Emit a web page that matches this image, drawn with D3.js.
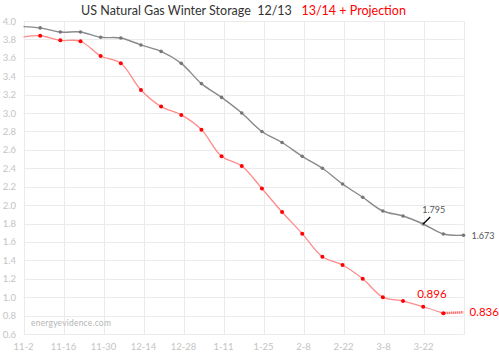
<!DOCTYPE html>
<html>
<head>
<meta charset="utf-8">
<script src="https://cdn.jsdelivr.net/npm/d3@7"></script>
<style>
  body { margin: 0; background: #fff; }
  svg { display: block; font-family: Lato, "Open Sans", sans-serif; }
</style>
</head>
<body>
<svg id="chart" width="499" height="358"></svg>
<script>
// weekly storage, tcf
var weeks = d3.range(23)
var storage1213 = [3.94, 3.925, 3.88, 3.88, 3.823, 3.815, 3.74, 3.67, 3.54, 3.32, 3.17, 3.0,
  2.8, 2.68, 2.53, 2.4, 2.23, 2.085, 1.936, 1.882, 1.795, 1.686, 1.673]
var storage1314 = [3.82, 3.84, 3.79, 3.78, 3.62, 3.54, 3.25, 3.07, 2.98, 2.82, 2.53, 2.425,
  2.18, 1.925, 1.69, 1.44, 1.35, 1.2, 1.0, 0.958, 0.896, 0.826, 0.836]
var xTickLabels = ["11-2", "11-16", "11-30", "12-14", "12-28", "1-11", "1-25", "2-8", "2-22", "3-8", "3-22", ""]
var yTicks = d3.range(0.6, 4.01, 0.2)

var svg = d3.select("#chart")
var plotLeft = 23.5, plotRight = 463.5, plotTop = 21, plotBottom = 334

var xGrid = d3.scaleLinear().domain([0, xTickLabels.length - 1]).range([plotLeft, plotRight])
var x = d3.scaleLinear().domain([0, 22]).range([20, 463.5])
var y = d3.scaleLinear().domain([0.6, 4.0]).range([plotBottom, plotTop])

// grid
svg.append("g").selectAll("line").data(yTicks).enter().append("line")
  .attr("x1", plotLeft).attr("x2", plotRight)
  .attr("y1", function (d) { return Math.round(y(d)) + 0.5 })
  .attr("y2", function (d) { return Math.round(y(d)) + 0.5 })
  .attr("stroke", "#ebebeb")

svg.append("g").selectAll("line").data(xTickLabels).enter().append("line")
  .attr("x1", function (d, i) { return Math.round(xGrid(i)) + 0.5 })
  .attr("x2", function (d, i) { return Math.round(xGrid(i)) + 0.5 })
  .attr("y1", plotTop).attr("y2", plotBottom + 1)
  .attr("stroke", "#ebebeb")

// tick labels
svg.append("g").selectAll("text").data(yTicks).enter().append("text")
  .attr("x", 16).attr("y", function (d) { return y(d) + 3.5 })
  .attr("text-anchor", "end").attr("font-size", 9.5).attr("fill", "#c4c4c4")
  .text(function (d) { return d.toFixed(1) })

svg.append("g").selectAll("text").data(xTickLabels).enter().append("text")
  .attr("x", function (d, i) { return xGrid(i) }).attr("y", 350)
  .attr("text-anchor", "middle").attr("font-size", 9.5).attr("fill", "#c4c4c4")
  .text(function (d) { return d })

svg.append("text").attr("x", 31).attr("y", 326)
  .attr("font-size", 8.5).attr("fill", "#b5b5b5").attr("letter-spacing", 0.2)
  .text("energyevidence.com")

// title
var title = svg.append("text").attr("x", (plotLeft + plotRight) / 2).attr("y", 15)
  .attr("text-anchor", "middle").attr("font-size", 12.5)
title.append("tspan").attr("fill", "#333").text("US Natural Gas Winter Storage\u00a0\u00a012/13\u00a0\u00a0\u00a0")
title.append("tspan").attr("fill", "#ff0000").text("13/14 + Projection")

// lines
svg.append("clipPath").attr("id", "clip").append("rect")
  .attr("x", plotLeft).attr("y", 0).attr("width", 499 - plotLeft).attr("height", 358)

var line = d3.line()
  .x(function (d) { return x(d.i) })
  .y(function (d) { return y(d.v) })
  .curve(d3.curveCatmullRom)

var grey = weeks.map(function (i) { return { i: i, v: storage1213[i] } })
var red = weeks.map(function (i) { return { i: i, v: storage1314[i] } })
var redActual = red.slice(0, 22)
var redProj = red.slice(21)

var plot = svg.append("g").attr("clip-path", "url(#clip)")

plot.append("path").datum(grey).attr("d", line)
  .attr("fill", "none").attr("stroke", "#8a8a8a").attr("stroke-width", 1.4)
plot.append("path").datum(redActual).attr("d", line)
  .attr("fill", "none").attr("stroke", "#ff8a8a").attr("stroke-width", 1.3)
plot.append("path").datum(redProj).attr("d", line)
  .attr("fill", "none").attr("stroke", "#ff3030").attr("stroke-width", 2.5)
  .attr("stroke-dasharray", "1,1")

plot.selectAll(".gm").data(grey).enter().append("circle")
  .attr("class", "gm")
  .attr("cx", function (d) { return x(d.i) })
  .attr("cy", function (d) { return y(d.v) })
  .attr("r", 1.8).attr("fill", "#777")
plot.selectAll(".rm").data(redActual).enter().append("circle")
  .attr("class", "rm")
  .attr("cx", function (d) { return x(d.i) })
  .attr("cy", function (d) { return y(d.v) })
  .attr("r", 2).attr("fill", "#ff0000")

// annotations
svg.append("line")
  .attr("x1", x(20) + 7).attr("y1", y(1.795) - 7)
  .attr("x2", x(20)).attr("y2", y(1.795))
  .attr("stroke", "#000").attr("stroke-width", 1.2)
svg.append("text").attr("x", x(20) - 1).attr("y", y(1.795) - 11)
  .attr("font-size", 9).attr("fill", "#555").text("1.795")
svg.append("text").attr("x", x(22) + 8).attr("y", y(1.673) + 3.5)
  .attr("font-size", 9).attr("fill", "#555").text("1.673")
svg.append("text").attr("x", x(20) - 6).attr("y", y(0.896) - 9)
  .attr("font-size", 11.5).attr("fill", "#ff0000").text("0.896")
svg.append("text").attr("x", x(22) + 6).attr("y", y(0.836) + 4)
  .attr("font-size", 11.5).attr("fill", "#ff0000").text("0.836")
</script>
</body>
</html>
